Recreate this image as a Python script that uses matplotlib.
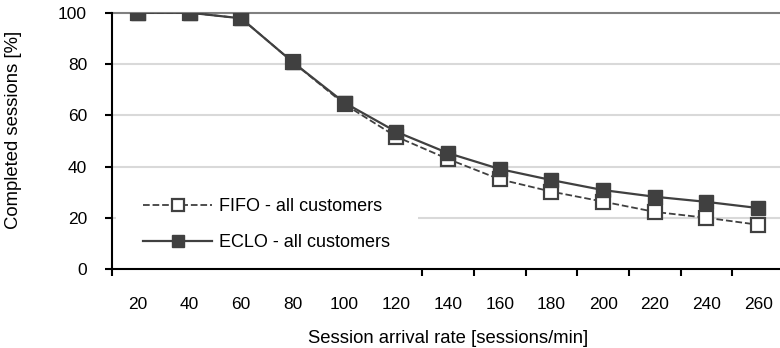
import matplotlib
matplotlib.use("Agg")
import matplotlib.pyplot as plt
import numpy as np

plt.rcParams['font.family'] = ['Liberation Sans', 'DejaVu Sans']

# arrival rates (sessions/min)
rates = [20, 40, 60, 80, 100, 120, 140, 160, 180, 200, 220, 240, 260]
# completed sessions [%]
fifo = [100, 100, 97.8, 80.7, 64.3, 51.7, 43.0, 35.1, 30.3, 26.4, 22.4, 20.1, 17.4]
eclo = [100, 100, 97.8, 80.7, 64.9, 53.6, 45.3, 39.1, 34.8, 30.9, 28.3, 26.3, 23.9]

dark = '#404040'

fig = plt.figure(figsize=(7.8, 3.48), dpi=100)
ax = fig.add_axes([0.1436, 0.2259, 0.8615, 0.7376])

x = np.arange(len(rates))
ax.plot(x, fifo, ls='--', color=dark, lw=1.3, marker='s', ms=9.5,
        mfc='white', mec=dark, mew=1.6, label='FIFO - all customers', zorder=3)
ax.plot(x, eclo, ls='-', color=dark, lw=1.6, marker='s', ms=10,
        mfc=dark, mec=dark, mew=1, label='ECLO - all customers', zorder=4)

ax.set_xlim(-0.5, len(rates) - 0.5)
ax.set_ylim(0, 100)
ax.set_yticks([0, 20, 40, 60, 80, 100])
for yv in [20, 40, 60, 80]:
    ax.axhline(yv, color='#d9d9d9', lw=1.5, zorder=1)
ax.axhline(100, color='#808080', lw=1.5, zorder=1, clip_on=False)

# category axis: labels centered, ticks on boundaries
ax.set_xticks(x)
ax.set_xticklabels([str(r) for r in rates])
ax.set_xticks(np.arange(-0.5, len(rates), 1), minor=True)
ax.tick_params(axis='x', which='major', length=0, pad=20, labelsize=12.5)
ax.tick_params(axis='x', which='minor', length=5, width=1.5, direction='out')
ax.tick_params(axis='y', length=5, width=1.5, direction='out', pad=13, labelsize=12.5)

for s in ['top', 'right']:
    ax.spines[s].set_visible(False)
ax.spines['left'].set_linewidth(1.5)
ax.spines['bottom'].set_linewidth(1.5)

ax.set_xlabel('Session arrival rate [sessions/min]', fontsize=13.3)
ax.xaxis.set_label_coords(0.5, -0.236)
ax.set_ylabel('Completed sessions [%]', fontsize=13.3)
ax.yaxis.set_label_coords(-0.134, 0.543)

leg = ax.legend(loc='center left', bbox_to_anchor=(0.006, 0.175), frameon=True,
                fontsize=13, handlelength=3.83, labelspacing=1.05,
                handletextpad=0.4, borderpad=1.5, borderaxespad=0,
                markerscale=0.85)
leg.get_frame().set_facecolor('white')
leg.get_frame().set_edgecolor('none')
leg.get_frame().set_alpha(1)
leg.set_zorder(2)

fig.savefig('out.png', dpi=100)
